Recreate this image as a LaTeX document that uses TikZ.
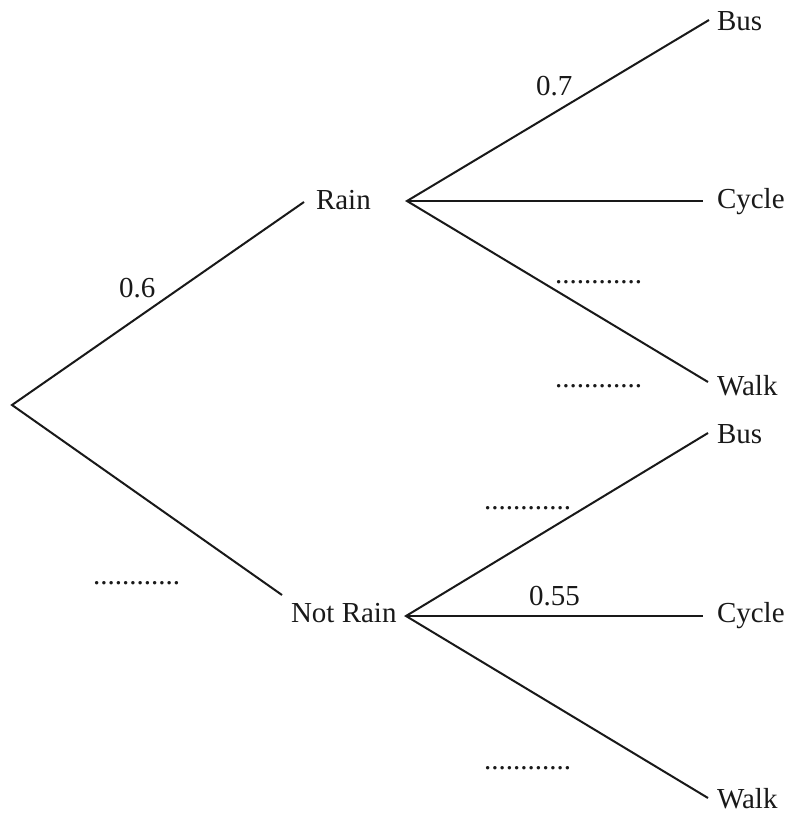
\documentclass[tikz,border=0pt]{standalone}
\usepackage{fontspec}
\setmainfont{Liberation Serif}
\begin{document}
\begin{tikzpicture}[x=1pt,y=-1pt,
  branch/.style={line width=2pt,color=black!90},
  lbl/.style={anchor=base west,inner sep=0pt,outer sep=0pt,font=\fontsize{29}{34}\selectfont,text=black!90},
  blank/.style={lbl}]
\useasboundingbox (0,0) rectangle (787,814);
% branch points
\coordinate (root) at (12,405);
\coordinate (rainIn) at (304,202);
\coordinate (rainOut) at (407,201);
\coordinate (nrIn) at (282,595);
\coordinate (nrOut) at (406,616);
\coordinate (b1) at (709,20);
\coordinate (c1) at (703,201);
\coordinate (w1) at (708,382);
\coordinate (b2) at (708,433);
\coordinate (c2) at (703,616);
\coordinate (w2) at (708,798);
% labels
\node[lbl] (rain) at (316,209) {Rain};
\node[lbl] (notrain) at (291,622) {Not Rain};
\node[lbl] (bus1) at (717,30) {Bus};
\node[lbl] (cyc1) at (717,208) {Cycle};
\node[lbl] (walk1) at (717,395) {Walk};
\node[lbl] (bus2) at (717,443) {Bus};
\node[lbl] (cyc2) at (717,622) {Cycle};
\node[lbl] (walk2) at (717,808) {Walk};
% probabilities
\node[lbl] (p06) at (119,297) {0.6};
\node[lbl] (p07) at (536,95) {0.7};
\node[lbl] (p055) at (529,605) {0.55};
\node[blank] (d0) at (93,584) {............};
\node[blank] (d1) at (555,283) {............};
\node[blank] (d2) at (555,387) {............};
\node[blank] (d3) at (484,509) {............};
\node[blank] (d4) at (484,769) {............};
% branches
\draw[branch] (rainIn) -- (root) -- (nrIn);
\draw[branch] (b1) -- (rainOut) -- (w1);
\draw[branch] (rainOut) -- (c1);
\draw[branch] (b2) -- (nrOut) -- (w2);
\draw[branch] (nrOut) -- (c2);
\end{tikzpicture}
\end{document}
